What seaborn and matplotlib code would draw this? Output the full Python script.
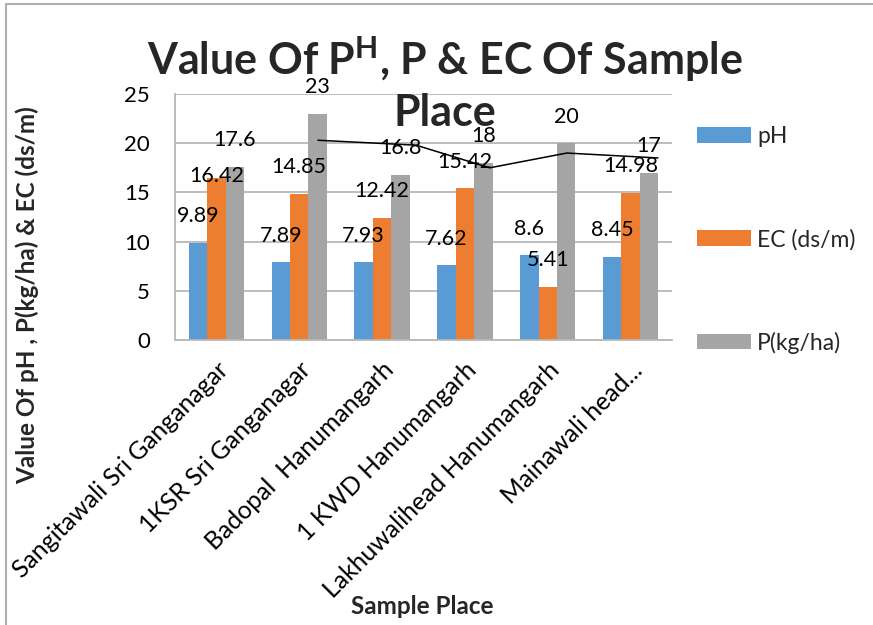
import numpy as np
import pandas as pd
import seaborn as sns
import matplotlib.pyplot as plt
from matplotlib.lines import Line2D

# data
places = ["Sangitawali Sri Ganganagar", "1KSR Sri Ganganagar", "Badopal  Hanumangarh",
          "1 KWD Hanumangarh", "Lakhuwalihead Hanumangarh", "Mainawali head..."]
ph = [9.89, 7.89, 7.93, 7.62, 8.6, 8.45]
ec = [16.42, 14.85, 12.42, 15.42, 5.41, 14.98]
p = [17.6, 23, 16.8, 18, 20, 17]
series = ["pH", "EC (ds/m)", "P(kg/ha)"]
colors = ["#5B9BD5", "#ED7D31", "#A5A5A5"]
y_ticks = [0, 5, 10, 15, 20, 25]

# stray black line drawn over the chart (category units, value units)
line_x = [1.226, 2.41, 3.30, 4.23, 5.33]
line_y = [20.3, 19.8, 17.5, 19.0, 18.5]

sns.set_theme(style="white")
plt.rcParams['font.family'] = ['Lato', 'DejaVu Sans']
plt.rcParams['mathtext.fontset'] = 'custom'
plt.rcParams['mathtext.rm'] = 'Lato'
plt.rcParams['mathtext.bf'] = 'Lato:bold'

df = pd.DataFrame({
    "Place": places * 3,
    "Series": [series[0]] * 6 + [series[1]] * 6 + [series[2]] * 6,
    "Value": ph + ec + p,
})

W, H = 873, 625
fig = plt.figure(figsize=(W / 100, H / 100), dpi=100)
ax = fig.add_axes([175 / W, 1 - 340 / H, (672 - 175) / W, (340 - 94) / H])

sns.barplot(data=df, x="Place", y="Value", hue="Series", palette=colors,
            width=0.67, gap=0, linewidth=0, saturation=1, ax=ax, errorbar=None)

ax.set_ylim(0, 25)
ax.set_xlim(-0.5, 5.5)
ax.set_yticks(y_ticks)
ax.yaxis.grid(True, color="#b8b8b8", linewidth=1.3)
ax.set_axisbelow(True)
for s in ["top", "right"]:
    ax.spines[s].set_visible(False)
for s in ["left", "bottom"]:
    ax.spines[s].set_color("#b8b8b8")
    ax.spines[s].set_linewidth(1.3)
ax.tick_params(axis="y", length=0, pad=18, labelsize=16, labelcolor="black")
ax.tick_params(axis="x", length=0, pad=13, labelsize=17.8, labelcolor="black")
ax.set_xticks(range(len(places)))
ax.set_xticklabels(places, rotation=45, ha="right", rotation_mode="anchor")
ax.set_xlabel("")
ax.set_ylabel("")

# data labels
for si, cont in enumerate(ax.containers):
    for ci, bar in enumerate(cont):
        h = bar.get_height()
        off = 19
        if si == 1 and ci == 0:
            off = 2
        ax.annotate("{:g}".format(h), (bar.get_x() + bar.get_width() / 2, h),
                    xytext=(0, off), textcoords="offset points",
                    ha="center", va="center", fontsize=15.5, color="black")

ax.plot(line_x, line_y, color="black", linewidth=1.1)

# legend
handles, labels = ax.get_legend_handles_labels()
ax.legend(handles, labels, loc="center left", bbox_to_anchor=(697 / W, 1 - 240 / H),
          bbox_transform=fig.transFigure, frameon=False, fontsize=16.5,
          handlelength=2.35, handleheight=0.68, handletextpad=0.28,
          labelspacing=3.55, borderpad=0, borderaxespad=0)

# titles
fig.text(445 / W, 1 - 84 / H, "Value Of P$^{\\mathbf{H}}$, P & EC Of Sample\nPlace",
         ha="center", va="center", fontsize=31, fontweight="bold", linespacing=1.28)
fig.text(27 / W, 1 - 295 / H, "Value Of pH , P(kg/ha) & EC (ds/m)", rotation=90,
         ha="center", va="center", fontsize=17.5, fontweight="bold")
fig.text(422 / W, 1 - 607 / H, "Sample Place", ha="center", va="center",
         fontsize=17.5, fontweight="bold")

# chart border pieces
fig.add_artist(Line2D([6 / W, 6 / W], [0, 1 - 4 / H], color="#b0b0b0", linewidth=1.5))
fig.add_artist(Line2D([6 / W, 1], [1 - 4 / H, 1 - 4 / H], color="#b0b0b0", linewidth=1.5))

fig.savefig("out.png", dpi=100)
